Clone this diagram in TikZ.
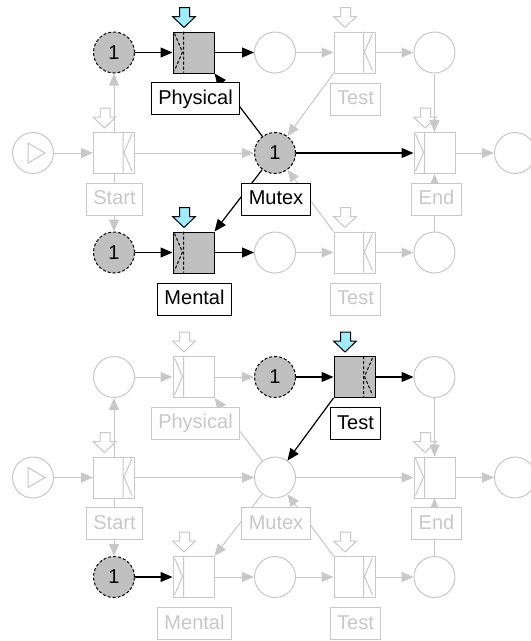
\documentclass[tikz,border=0pt]{standalone}
\usepackage{fontspec}
\setmainfont{Liberation Sans}
\usetikzlibrary{arrows.meta}

\definecolor{offgray}{RGB}{200,200,200}
\definecolor{tokengray}{RGB}{192,192,192}
\definecolor{readyblue}{RGB}{160,236,255}

% strips with the chevron, and the "ready" arrow above a transition
\newcommand{\leftstrip}[2]{\draw[#2,shift={(#1.north west)}] (11,0) -- (11,41) (2,2) -- (10,20.5) -- (2,39);}
\newcommand{\rightstrip}[2]{\draw[#2,shift={(#1.north west)}] (30,0) -- (30,41) (39,2) -- (31,20.5) -- (39,39);}
\newcommand{\readymark}[2]{\draw[#2,shift={(#1.north west)}] (7,-24) -- (17,-24) -- (17,-15) -- (23,-15) -- (11.5,-4) -- (0,-15) -- (7,-15) -- cycle;}

\begin{document}
\begin{tikzpicture}[x=1pt, y=-1pt, line width=1pt,
    place/.style ={circle, draw=offgray, fill=white, minimum size=41pt, inner sep=0pt,
       font=\fontsize{20}{20}\selectfont},
    marked/.style ={place, draw=black, densely dashed, fill=tokengray},
    trans/.style ={rectangle, draw=offgray, fill=white, minimum size=41pt, inner sep=0pt},
    enabled/.style ={trans, draw=black, fill=tokengray},
    lbl/.style ={rectangle, draw=offgray, text=offgray, fill=white, inner xsep=7pt, inner ysep=0pt,
       minimum height=32pt, text height=15pt, text depth=4pt, font=\fontsize{20}{20}\selectfont},
    lblon/.style ={lbl, draw=black, text=black},
    arc/.style ={draw=offgray, -{Triangle[length=12pt,width=10pt]}},
    arcon/.style ={arc, draw=black, line width=1.2pt},
    stripoff/.style ={draw=offgray},
    stripon/.style ={draw=black, densely dashed},
    readyoff/.style ={draw=offgray, fill=white},
    readyon/.style ={draw=black, fill=readyblue}]

   \useasboundingbox (0,0) rectangle (531,641);

   % first state: Physical and Mental may fire
   \node[marked] (P1)  at (114,52.5)   {1};
   \node[place]  (P2)  at (275,52.5)   {};
   \node[place]  (P3)  at (434.5,52.5) {};
   \node[place]  (Go)  at (33,153)     {};
   \node[marked] (Mx)  at (275,153)    {1};
   \node[place]  (Done) at (515,153)   {};
   \node[marked] (M1)  at (114,252.5)  {1};
   \node[place]  (M2)  at (275,252.5)  {};
   \node[place]  (M3)  at (434.5,252.5) {};
   \draw[offgray, shift={(Go)}] (-5,-10) -- (12,0) -- (-5,10) -- cycle;

   \node[trans]   (Start) at (114,153)      {};
   \node[enabled] (Phys)  at (193.5,52.5)   {};
   \node[trans]   (TestP) at (354.5,52.5)   {};
   \node[enabled] (Ment)  at (193.5,252.5)  {};
   \node[trans]   (TestM) at (354.5,252.5)  {};
   \node[trans]   (End)   at (434.5,153)    {};
   \rightstrip{Start}{stripoff}
   \leftstrip{Phys}{stripon}
   \rightstrip{TestP}{stripoff}
   \leftstrip{Ment}{stripon}
   \rightstrip{TestM}{stripoff}
   \leftstrip{End}{stripoff}
   \readymark{Start}{readyoff}
   \readymark{Phys}{readyon}
   \readymark{TestP}{readyoff}
   \readymark{Ment}{readyon}
   \readymark{TestM}{readyoff}
   \readymark{End}{readyoff}

   \draw[arc] (Go) -- (Start);
   \draw[arc] (Start) -- (P1);
   \draw[arc] (Start) -- (M1);
   \draw[arc] (Start) -- (Mx);
   \draw[arcon] (P1) -- (Phys);
   \draw[arcon] (Phys) -- (P2);
   \draw[arc] (P2) -- (TestP);
   \draw[arc] (TestP) -- (P3);
   \draw[arc] (P3) -- (End);
   \draw[arcon] (M1) -- (Ment);
   \draw[arcon] (Ment) -- (M2);
   \draw[arc] (M2) -- (TestM);
   \draw[arc] (TestM) -- (M3);
   \draw[arc] (M3) -- (End);
   \draw[arcon] (Mx) -- (End);
   \draw[arc] (End) -- (Done);
   \draw[arcon] (Mx) -- (Phys.south east);
   \draw[arcon] (Mx) -- (Ment.north east);
   \draw[arc] (TestP.south west) -- (Mx);
   \draw[arc] (TestM.north west) -- (Mx);

   \node[lbl]   (StartL) at (114.5,199)  {Start};
   \node[lblon] (PhysL)  at (195.5,98.5) {Physical};
   \node[lbl]   (TestPL) at (355.5,99)   {Test};
   \node[lblon] (MxL)    at (276,199)    {Mutex};
   \node[lbl]   (EndL)   at (436.5,199)  {End};
   \node[lblon] (MentL)  at (194.5,299)  {Mental};
   \node[lbl]   (TestML) at (355.5,299)  {Test};

   % second state: Physical has fired, Test may fire
   \node[place]  (P1b)  at (114,377)    {};
   \node[marked] (P2b)  at (275,377)    {1};
   \node[place]  (P3b)  at (434.5,377)  {};
   \node[place]  (Gob)  at (33,477.5)   {};
   \node[place]  (Mxb)  at (275,477.5)  {};
   \node[place]  (Doneb) at (515,477.5) {};
   \node[marked] (M1b)  at (114,577)    {1};
   \node[place]  (M2b)  at (275,577)    {};
   \node[place]  (M3b)  at (434.5,577)  {};
   \draw[offgray, shift={(Gob)}] (-5,-10) -- (12,0) -- (-5,10) -- cycle;

   \node[trans]   (Startb) at (114,477.5)   {};
   \node[trans]   (Physb)  at (193.5,377)   {};
   \node[enabled] (TestPb) at (354.5,377)   {};
   \node[trans]   (Mentb)  at (193.5,577)   {};
   \node[trans]   (TestMb) at (354.5,577)   {};
   \node[trans]   (Endb)   at (434.5,477.5) {};
   \rightstrip{Startb}{stripoff}
   \leftstrip{Physb}{stripoff}
   \rightstrip{TestPb}{stripon}
   \leftstrip{Mentb}{stripoff}
   \rightstrip{TestMb}{stripoff}
   \leftstrip{Endb}{stripoff}
   \readymark{Startb}{readyoff}
   \readymark{Physb}{readyoff}
   \readymark{TestPb}{readyon}
   \readymark{Mentb}{readyoff}
   \readymark{TestMb}{readyoff}
   \readymark{Endb}{readyoff}

   \draw[arc] (Gob) -- (Startb);
   \draw[arc] (Startb) -- (P1b);
   \draw[arc] (Startb) -- (M1b);
   \draw[arc] (Startb) -- (Mxb);
   \draw[arc] (P1b) -- (Physb);
   \draw[arc] (Physb) -- (P2b);
   \draw[arcon] (P2b) -- (TestPb);
   \draw[arcon] (TestPb) -- (P3b);
   \draw[arc] (P3b) -- (Endb);
   \draw[arcon] (M1b) -- (Mentb);
   \draw[arc] (Mentb) -- (M2b);
   \draw[arc] (M2b) -- (TestMb);
   \draw[arc] (TestMb) -- (M3b);
   \draw[arc] (M3b) -- (Endb);
   \draw[arc] (Mxb) -- (Endb);
   \draw[arc] (Endb) -- (Doneb);
   \draw[arc] (Mxb) -- (Physb.south east);
   \draw[arc] (Mxb) -- (Mentb.north east);
   \draw[arcon] (TestPb.south west) -- (Mxb);
   \draw[arc] (TestMb.north west) -- (Mxb);

   \node[lbl]   (StartLb) at (114.5,523.5) {Start};
   \node[lbl]   (PhysLb)  at (195.5,423)   {Physical};
   \node[lblon] (TestPLb) at (355.5,423.5) {Test};
   \node[lbl]   (MxLb)    at (276,523.5)   {Mutex};
   \node[lbl]   (EndLb)   at (436.5,523.5) {End};
   \node[lbl]   (MentLb)  at (194.5,623.5) {Mental};
   \node[lbl]   (TestMLb) at (355.5,623.5) {Test};

\end{tikzpicture}
\end{document}
